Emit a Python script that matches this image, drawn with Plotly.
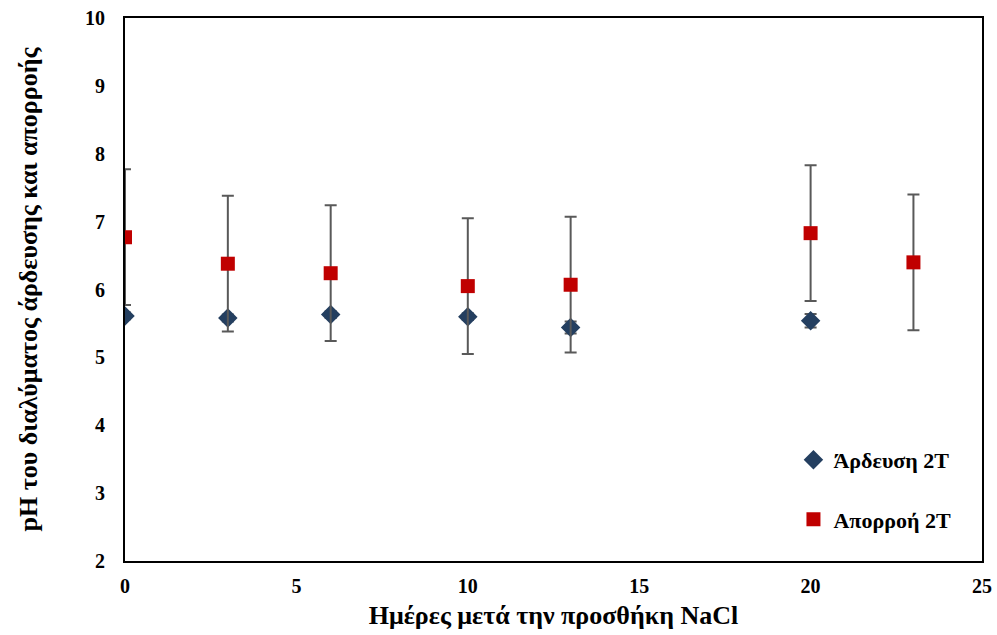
import plotly.graph_objects as go

days_irr = [0, 3, 6, 10, 13, 20]
ph_irr = [5.61, 5.58, 5.63, 5.60, 5.44, 5.54]
err_irr = [0.05, 0.05, 0.05, 0.05, 0.09, 0.10]

days_drain = [0, 3, 6, 10, 13, 20, 23]
ph_drain = [6.77, 6.38, 6.24, 6.05, 6.07, 6.83, 6.40]
err_drain = [1.0, 1.0, 1.0, 1.0, 1.0, 1.0, 1.0]

name_irr = "Άρδευση 2Τ"
name_drain = "Απορροή 2Τ"
x_title = "Ημέρες μετά την προσθήκη NaCl"
y_title = "pH του διαλύματος άρδευσης και απορροής"

FONT = "Liberation Serif"

fig = go.Figure()
fig.add_trace(go.Scatter(
    x=days_irr, y=ph_irr, mode="markers", name=name_irr, legendgroup="a",
    marker=dict(symbol="diamond", size=15, color="#243F60"),
    error_y=dict(type="data", array=err_irr, color="#595959", thickness=2, width=6),
))
fig.add_trace(go.Scatter(
    x=days_drain, y=ph_drain, mode="markers", name=name_drain, legendgroup="b",
    marker=dict(symbol="square", size=14, color="#C00000"),
    error_y=dict(type="data", array=err_drain, color="#595959", thickness=2, width=6),
))

fig.update_layout(
    width=997, height=635,
    margin=dict(l=125, r=15, t=18, b=74),
    plot_bgcolor="white", paper_bgcolor="white",
    font=dict(family=FONT, size=20, color="black"),
    legend=dict(x=0.78, y=0.225, xanchor="left", yanchor="top",
                font=dict(family=FONT, size=22, color="black", weight="bold"),
                tracegroupgap=28, bgcolor="rgba(0,0,0,0)", itemwidth=30),
    xaxis=dict(range=[0, 25], tickvals=[0, 5, 10, 15, 20, 25], showgrid=False,
               zeroline=False, showline=True, linecolor="black", linewidth=2, mirror=True,
               ticks="", ticklabelstandoff=6, automargin=False,
               tickfont=dict(family=FONT, size=20, color="black", weight="bold"),
               title=dict(text=x_title, standoff=10,
                          font=dict(family=FONT, size=26, color="black", weight="bold"))),
    yaxis=dict(range=[2, 10], tickvals=list(range(2, 11)), showgrid=False,
               zeroline=False, showline=True, linecolor="black", linewidth=2, mirror=True,
               ticks="", ticklabelstandoff=14, automargin=False,
               tickfont=dict(family=FONT, size=20, color="black", weight="bold"),
               title=dict(text=y_title, standoff=40,
                          font=dict(family=FONT, size=26, color="black", weight="bold"))),
)

fig.write_html("out.html")
